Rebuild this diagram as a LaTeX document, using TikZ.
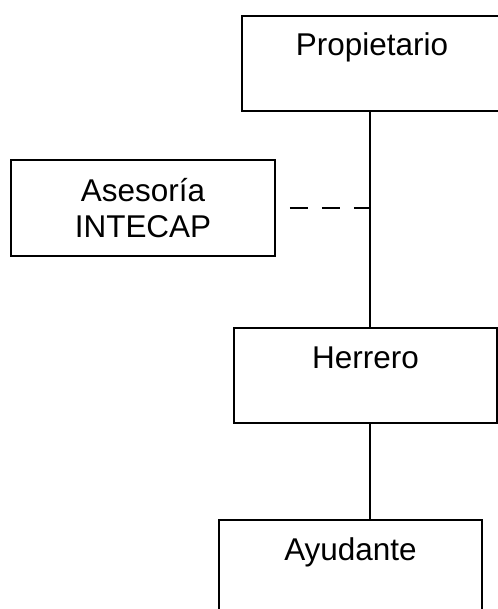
\documentclass[tikz,border=0pt]{standalone}
\usepackage{fontspec}
\setmainfont{Liberation Sans}
\usepackage{tikz}
\usetikzlibrary{positioning}

\tikzset{
  orgbox/.style={draw=black,line width=1.2pt,rectangle,inner xsep=0pt,inner ysep=0pt,
    text height=30pt,text depth=41.25pt,minimum width=197pt},
  sidebox/.style={draw=black,line width=1.2pt,rectangle,align=center,inner sep=0pt,
    minimum width=198pt,minimum height=72pt},
  orgline/.style={draw=black,line width=0.9pt},
  advline/.style={orgline,dash pattern=on 13.5pt off 10.5pt,dash phase=13.5pt}
}

\begin{document}
\begin{tikzpicture}[x=0.75pt,y=-0.75pt,font=\fontsize{23.6}{27}\selectfont]
% frame of the page: 498 x 609 px
\useasboundingbox (0,0) rectangle (498,609);
% ---- the boxes ----------------------------------------------------------
% right side of the top box runs off the page
\node[orgbox,minimum width=195pt] (prop) at (372,63.5) {Propietario};
\node[sidebox] (ases) at (143,208) {Asesoría\\INTECAP};
\node[orgbox] (herr) at (365.5,375.5) {Herrero};
\node[orgbox] (ayud) at (350.5,567.5) {Ayudante};
% ---- the lines ----------------------------------------------------------
\coordinate (spine) at (370,111);
\draw[orgline] (prop.south -| spine) -- (spine |- herr.north);
\draw[orgline] (spine |- herr.south) -- (spine |- ayud.north);
\draw[advline] (ases.east) -- (ases.east -| spine);
\end{tikzpicture}
\end{document}
